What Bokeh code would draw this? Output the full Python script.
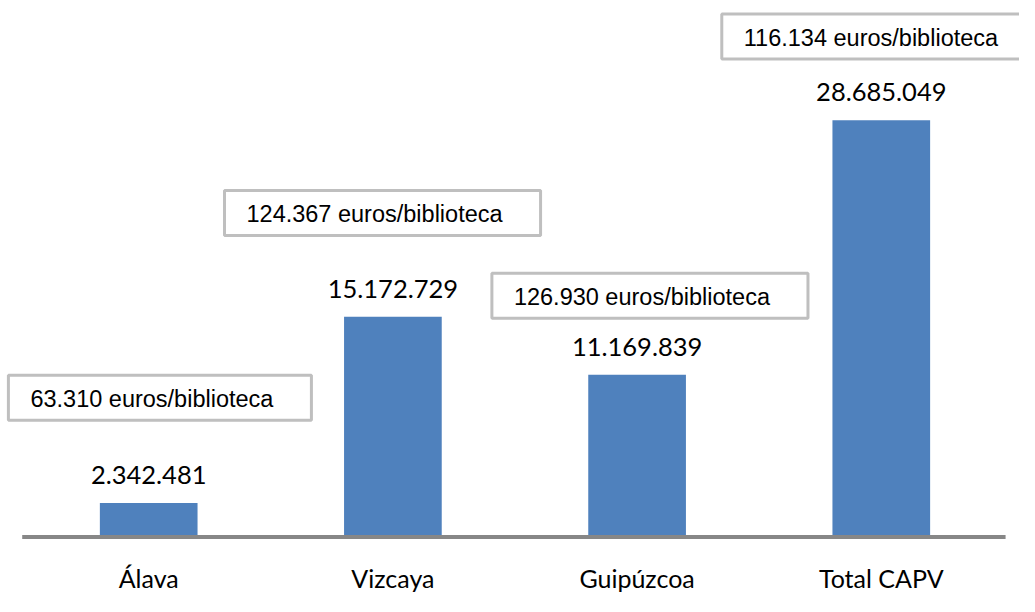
from bokeh.plotting import figure
from bokeh.models import ColumnDataSource, Range1d
from bokeh.core.properties import value
from bokeh.embed import file_html
from bokeh.resources import INLINE

# ---- data ----
categories = ["Álava", "Vizcaya", "Guipúzcoa", "Total CAPV"]
budget = [2342481, 15172729, 11169839, 28685049]
per_library = [63310, 124367, 126930, 116134]


def fmt(n):
    return f"{n:,}".replace(",", ".")


# ---- layout: pixel offsets of the free-floating text boxes (top-left corner,
# relative to the top-centre of each bar) ----
box_dx = [-140.3, -168.4, -145.2, -159.5]
box_dy = [-127.7, -126.2, -101.6, -106.2]

xs = list(range(len(categories)))
src = ColumnDataSource(dict(
    x=xs,
    cat=categories,
    top=budget,
    val=[fmt(v) for v in budget],
    box=[f"{fmt(v)} euros/biblioteca" for v in per_library],
    bdx=box_dx,
    bdy=box_dy,
))

p = figure(width=1019, height=596,
           x_range=Range1d(-0.6069, 3.566),
           y_range=Range1d(-4.088e6, 36.93e6),
           x_axis_type=None, y_axis_type=None,
           output_backend="svg", toolbar_location=None,
           min_border=0, outline_line_color=None,
           background_fill_color="white", border_fill_color="white")
p.grid.visible = False

p.vbar(x="x", top="top", bottom=0, width=0.4, source=src,
       fill_color="#4F81BD", line_color=None)

# baseline
p.segment(x0=-0.518, y0=0, x1=3.509, y1=0, line_color="#878787", line_width=4)

# value labels
p.text(x="x", y="top", text="val", source=src, y_offset=-28,
       text_align="center", text_baseline="alphabetic",
       text_font=value("Lato"), text_font_size="25.5px", text_color="#000000")

# category labels
p.text(x="x", y=0, text="cat", source=src, y_offset=41,
       text_align="center", text_baseline="alphabetic",
       text_font=value("Lato"), text_font_size="25px", text_color="#000000")

# boxed per-library labels  (padding order: left, right, top, bottom)
p.text(x="x", y="top", text="box", source=src, x_offset="bdx", y_offset="bdy",
       anchor="top_left", text_align="left", text_baseline="middle",
       text_font=value("Liberation Sans"), text_font_size="23.5px",
       text_color="#000000",
       border_line_color="#BFBFBF", border_line_width=3,
       background_fill_color="white",
       padding=(22, 38, 11, 8))

open("out.html", "w").write(file_html(p, INLINE))
